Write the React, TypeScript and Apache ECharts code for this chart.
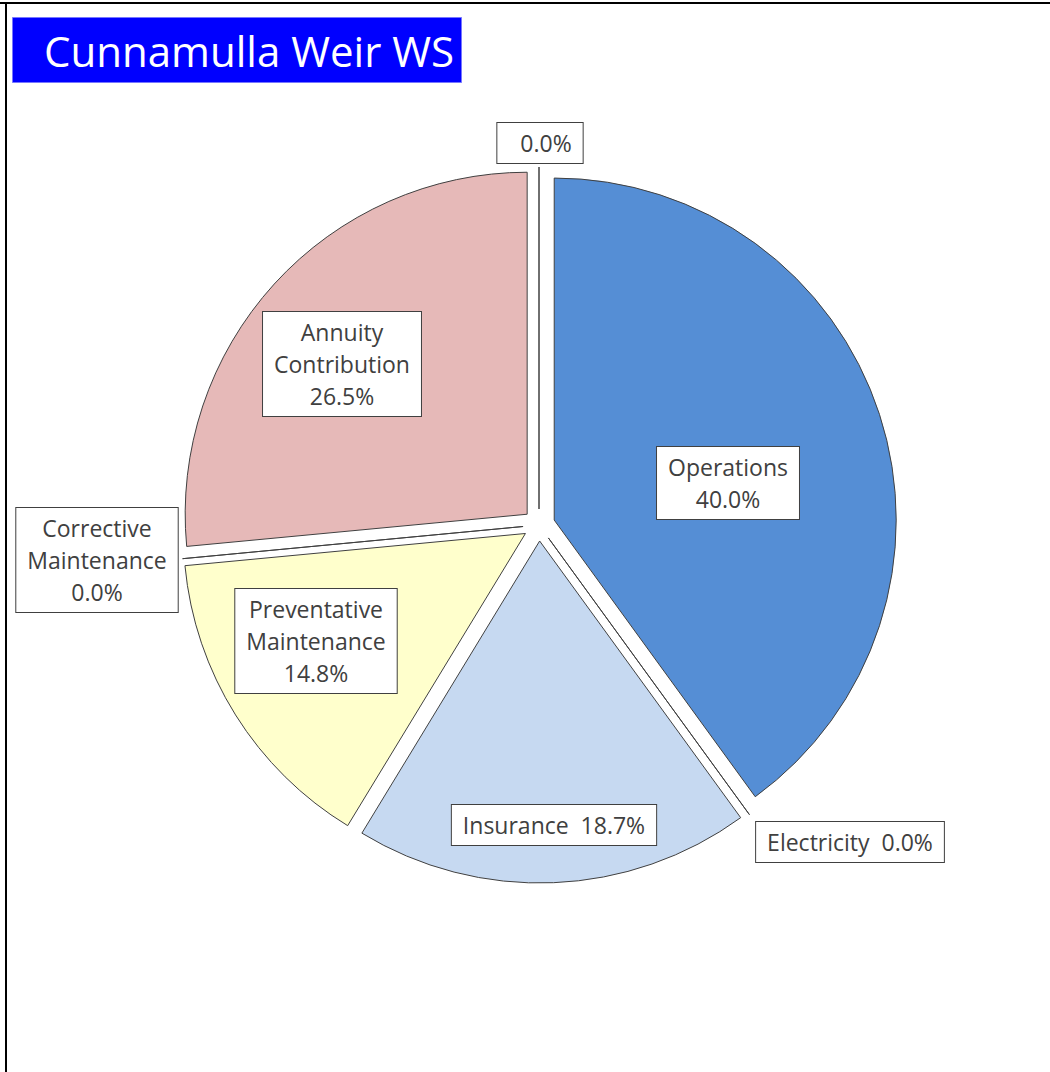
import React, { useEffect, useRef } from 'react';
import * as echarts from 'echarts';

// Slices in clockwise order starting at 12 o'clock
const categories = ['Operations', 'Electricity', 'Insurance', 'Preventative Maintenance', 'Corrective Maintenance', 'Annuity Contribution', ''];
const values = [40.0, 0.0, 18.7, 14.8, 0.0, 26.5, 0.0];
const labelNames = ['Operations\n', 'Electricity  ', 'Insurance  ', 'Preventative\nMaintenance\n', 'Corrective\nMaintenance\n', 'Annuity\nContribution\n', '  '];
const sliceColors = ['#558ED5', '#7F7F7F', '#C6D9F1', '#FFFFCC', '#A6A6A6', '#E6B9B8', '#BFBFBF'];
const labelCenters = [[728, 483], [850, 842], [554, 825], [316, 641], [97, 560], [342, 364], [540, 143]];
const titleText = 'Cunnamulla Weir WS';

const FONT = '"Open Sans", "Noto Sans", sans-serif';
const CENTER = [539, 525];
const RADIUS = 342;
const EXPLODE = 16;

export default function App() {
  const ref = useRef<HTMLDivElement>(null);
  useEffect(() => {
    if (!ref.current) return;
    const chart = echarts.init(ref.current, null, { renderer: 'svg' });

    const total = values.reduce((a, b) => a + b, 0);
    let acc = 0;
    const midAngles = values.map((v) => {
      const m = ((acc + v / 2) / total) * 2 * Math.PI;
      acc += v;
      return m;
    });

    const labelStyle = {
      show: true,
      position: 'outside',
      color: '#404040',
      fontFamily: FONT,
      fontSize: 23,
      lineHeight: 32,
      backgroundColor: '#ffffff',
      borderColor: '#404040',
      borderWidth: 1,
      padding: [4, 11, 4, 11],
      align: 'center',
      verticalAlign: 'middle',
      formatter: (p: any) => labelNames[p.dataIndex] + values[p.dataIndex].toFixed(1) + '%',
    };

    const series = categories.map((_, i) => ({
      type: 'pie',
      center: [CENTER[0] + EXPLODE * Math.sin(midAngles[i]), CENTER[1] - EXPLODE * Math.cos(midAngles[i])],
      radius: RADIUS,
      startAngle: 90,
      clockwise: true,
      silent: true,
      avoidLabelOverlap: false,
      emphasis: { disabled: true },
      labelLine: { show: false },
      label: labelStyle,
      labelLayout: (params: any) => {
        const c = labelCenters[params.dataIndex];
        return { x: c[0], y: c[1], align: 'center', verticalAlign: 'middle' };
      },
      data: categories.map((name, j) => ({
        name,
        value: values[j],
        itemStyle:
          j === i
            ? { color: sliceColors[j], borderColor: '#404040', borderWidth: 1 }
            : { color: 'rgba(0,0,0,0)', borderWidth: 0 },
        label: { show: j === i },
      })),
    }));

    chart.setOption({
      animation: false,
      backgroundColor: '#ffffff',
      title: {
        text: titleText,
        left: 12,
        top: 17,
        backgroundColor: '#0000FF',
        borderColor: '#7777ff',
        borderWidth: 1,
        padding: [4, 8, 4, 32],
        textStyle: {
          color: '#ffffff',
          fontFamily: FONT,
          fontWeight: 'normal',
          fontSize: 42,
          lineHeight: 58,
        },
      },
      graphic: [
        { type: 'line', shape: { x1: 0, y1: 3, x2: 1050, y2: 3 }, style: { stroke: '#000', lineWidth: 2 } },
        { type: 'line', shape: { x1: 6, y1: 2, x2: 6, y2: 1072 }, style: { stroke: '#000', lineWidth: 2 } },
      ],
      series,
    });
    return () => chart.dispose();
  }, []);
  return <div ref={ref} style={{ position: 'absolute', left: 0, top: 0, width: 1050, height: 1072 }} />;
}
